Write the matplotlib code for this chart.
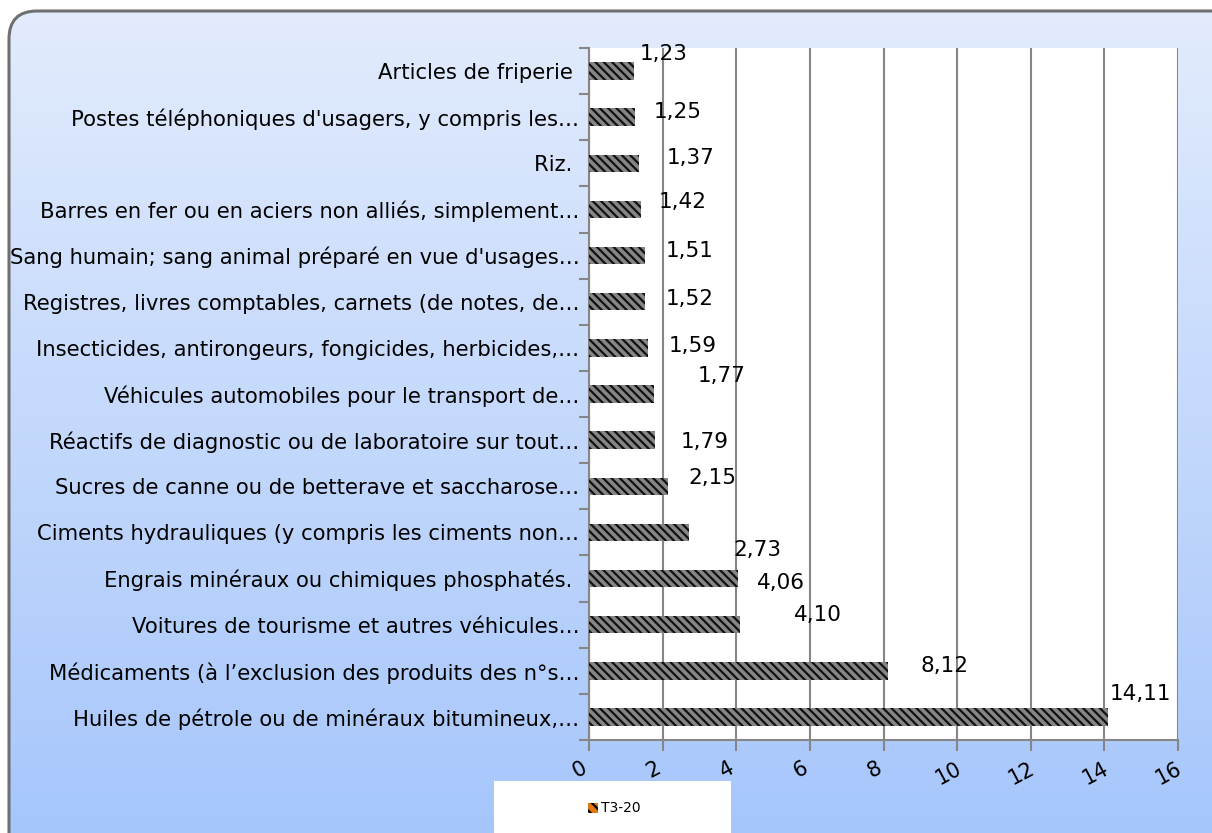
import matplotlib
matplotlib.use("Agg")
import matplotlib.pyplot as plt
import matplotlib.transforms as mtransforms
from matplotlib.patches import FancyBboxPatch, Rectangle
import numpy as np

# ---- data (top to bottom as shown) ----
categories = [
    "Articles de friperie ",
    "Postes téléphoniques d'usagers, y compris les…",
    "Riz. ",
    "Barres en fer ou en aciers non alliés, simplement…",
    "Sang humain; sang animal préparé en vue d'usages…",
    "Registres, livres comptables, carnets (de notes, de…",
    "Insecticides, antirongeurs, fongicides, herbicides,…",
    "Véhicules automobiles pour le transport de…",
    "Réactifs de diagnostic ou de laboratoire sur tout…",
    "Sucres de canne ou de betterave et saccharose…",
    "Ciments hydrauliques (y compris les ciments non…",
    "Engrais minéraux ou chimiques phosphatés. ",
    "Voitures de tourisme et autres véhicules…",
    "Médicaments (à l’exclusion des produits des n°s…",
    "Huiles de pétrole ou de minéraux bitumineux,…",
]
values = [1.23, 1.25, 1.37, 1.42, 1.51, 1.52, 1.59, 1.77, 1.79, 2.15, 2.73, 4.06, 4.10, 8.12, 14.11]
value_labels = ["1,23", "1,25", "1,37", "1,42", "1,51", "1,52", "1,59", "1,77", "1,79",
                "2,15", "2,73", "4,06", "4,10", "8,12", "14,11"]
series_name = "T3-20"
x_ticks = [0, 2, 4, 6, 8, 10, 12, 14, 16]

# label offsets in pixels (layout only, matches the reference's displaced labels)
label_dx = [29, 43, 51, 41, 45, 45, 45, 68, 50, 44, 68, 42, 78, 57, 32]
label_dy = [17, 5, 5, 7, 5, 3, 2, 18, -2, 8, -18, -4, 10, 5, 23]

W, H = 1212, 833
fig = plt.figure(figsize=(W / 100, H / 100), dpi=100)
fig.patch.set_facecolor("white")

# ---- rounded gradient background ----
bg = fig.add_axes([0, 0, 1, 1], zorder=-10)
bg.set_xlim(0, W)
bg.set_ylim(H, 0)
bg.axis("off")
grad = np.linspace(0, 1, 256).reshape(-1, 1)
c_top = np.array([0xE3, 0xEC, 0xFD]) / 255
c_bot = np.array([0xA6, 0xC6, 0xFB]) / 255
img = c_top[None, None, :] * (1 - grad[..., None]) + c_bot[None, None, :] * grad[..., None]
box = FancyBboxPatch((9, 11), 1240, 860, boxstyle="round,pad=0,rounding_size=28",
                     facecolor="none", edgecolor="#6f6f6f", linewidth=2.2, zorder=2)
bg.add_patch(box)
im = bg.imshow(img, extent=(0, W, H, 0), aspect="auto", zorder=1)
im.set_clip_path(box)

# ---- main axes ----
ax = fig.add_axes([589 / W, 1 - 740 / H, (1178 - 589) / W, (740 - 48) / H])
ax.set_facecolor("white")

n = len(categories)
ypos = np.arange(n)[::-1]
plt.rcParams["hatch.linewidth"] = 1.6
plt.rcParams["hatch.color"] = "#111111"
bars = ax.barh(ypos, values, height=0.38, color="#858585", edgecolor="#111111",
               hatch="\\\\\\\\", linewidth=0, zorder=3)

ax.set_xlim(0, 16)
ax.set_ylim(-0.5, n - 0.5)
ax.set_xticks(x_ticks)
ax.set_yticks(ypos)
ax.set_yticklabels(categories, fontsize=15.2, fontfamily="DejaVu Sans", color="black")
ax.set_yticks(np.arange(-0.5, n, 1.0), minor=True)
ax.tick_params(axis="y", which="major", length=0, pad=7)
ax.tick_params(axis="y", which="minor", length=7, color="#868686", width=1.5, direction="out")
ax.tick_params(axis="x", which="major", length=8, color="#868686", width=1.5, direction="out", pad=5)

ax.grid(axis="x", color="#868686", linewidth=1.5, zorder=1)
ax.spines["top"].set_visible(False)
ax.spines["right"].set_visible(False)
ax.spines["left"].set_color("#868686")
ax.spines["left"].set_linewidth(1.5)
ax.spines["bottom"].set_color("#868686")
ax.spines["bottom"].set_linewidth(1.5)

offset = mtransforms.ScaledTranslation(-9 / 100, 0, fig.dpi_scale_trans)
for lbl in ax.get_xticklabels():
    lbl.set_rotation(28)
    lbl.set_fontsize(15)
    lbl.set_ha("center")
    lbl.set_transform(lbl.get_transform() + offset)

# value labels
for yv, v, t, dx, dy in zip(ypos, values, value_labels, label_dx, label_dy):
    ax.annotate(t, xy=(v, yv), xytext=(dx, dy), textcoords="offset pixels",
                ha="center", va="center", fontsize=15.5, fontfamily="DejaVu Sans",
                color="black", zorder=5, annotation_clip=False)

# ---- legend box ----
fig.patches.append(Rectangle((494 / W, 0), (731 - 494) / W, 52 / H, transform=fig.transFigure,
                             facecolor="white", edgecolor="none", zorder=5))
fig.patches.append(Rectangle((588 / W, 1 - 813 / H), 10 / W, 10 / H, transform=fig.transFigure,
                             facecolor="#e07a10", edgecolor="black", hatch="\\\\\\",
                             linewidth=0, zorder=6))
fig.text(601 / W, 1 - 808 / H, series_name, fontsize=10, fontfamily="DejaVu Sans",
         va="center", ha="left", zorder=7)

fig.savefig("out.png", dpi=100)
